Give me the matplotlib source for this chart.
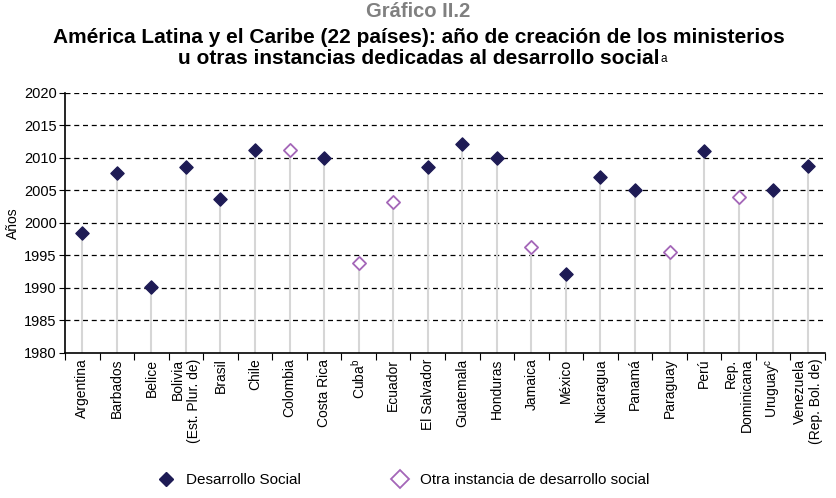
import numpy as np
import matplotlib.pyplot as plt
from matplotlib.lines import Line2D

plt.rcParams['font.family'] = ['Liberation Sans', 'DejaVu Sans']

countries = ['Argentina', 'Barbados', 'Belice', 'Bolivia\n(Est. Plur. de)', 'Brasil', 'Chile',
             'Colombia', 'Costa Rica', r'Cuba$^{\mathregular{b}}$', 'Ecuador', 'El Salvador',
             'Guatemala', 'Honduras', 'Jamaica', 'México', 'Nicaragua', 'Panamá', 'Paraguay',
             'Perú', 'Rep.\nDominicana', r'Uruguay$^{\mathregular{c}}$', 'Venezuela\n(Rep. Bol. de)']
years = [1998.5, 2007.7, 1990.1, 2008.6, 2003.7, 2011.3, 2011.3, 2010.0, 1993.8, 2003.3, 2008.6,
         2012.2, 2010.0, 1996.3, 1992.1, 2007.0, 2005.0, 1995.5, 2011.0, 2004.0, 2005.0, 2008.7]
# True = ministerio de desarrollo social, False = otra instancia
is_ministry = [True, True, True, True, True, True, False, True, False, False, True,
               True, True, False, True, True, True, False, True, False, True, True]

navy = '#1e1b55'
purple = '#a466b8'

fig = plt.figure(figsize=(8.37, 4.98), dpi=100)
ax = fig.add_axes([0.0777, 0.2912, 0.9080, 0.5221])

x = np.arange(len(countries))
years = np.array(years)
mask = np.array(is_ministry)

ax.vlines(x, 1980, years, color='#d6d6d6', linewidth=1.5, zorder=1)
ax.scatter(x[mask], years[mask], marker='D', s=45, color=navy, zorder=3)
ax.scatter(x[~mask], years[~mask], marker='D', s=45, facecolor='white',
           edgecolor=purple, linewidth=1.3, zorder=3)

ax.set_ylim(1980, 2020)
ax.set_xlim(-0.5, len(countries) - 0.5)
ax.set_yticks(np.arange(1980, 2021, 5))
for yv in np.arange(1985, 2021, 5):
    ax.axhline(yv, color='black', linestyle=(0, (4, 3)), linewidth=0.9, zorder=0)

ax.set_xticks(np.arange(-0.5, len(countries), 1))
ax.set_xticklabels([])
ax.set_xticks(x, minor=True)
ax.set_xticklabels(countries, minor=True, rotation=90, fontsize=10,
                   va='top', ha='center', multialignment='right')
ax.tick_params(axis='x', which='major', length=5, direction='out', color='black')
ax.tick_params(axis='x', which='minor', length=0, pad=4)
ax.tick_params(axis='y', length=4, labelsize=10.5, pad=2)

for s in ['top', 'right']:
    ax.spines[s].set_visible(False)
ax.spines['left'].set_linewidth(1.2)
ax.spines['bottom'].set_linewidth(1.2)

ax.set_ylabel('Años', fontsize=10, labelpad=3)

fig.text(0.5, 0.966, 'Gráfico II.2', ha='center', va='baseline', fontsize=14.5,
         fontweight='bold', color='#808080')
fig.text(0.5, 0.913, 'América Latina y el Caribe (22 países): año de creación de los ministerios',
         ha='center', va='baseline', fontsize=15, fontweight='bold')
line3 = fig.text(0.5, 0.872, 'u otras instancias dedicadas al desarrollo social',
                 ha='center', va='baseline', fontsize=15, fontweight='bold')
# superindice "a" pequeño, no en negrita, pegado al final de la linea
fig.canvas.draw()
bb = line3.get_window_extent().transformed(fig.transFigure.inverted())
fig.text(bb.x1 + 0.001, bb.y1 - 0.008, 'a', ha='left', va='top', fontsize=8.5)

handles = [Line2D([], [], marker='D', linestyle='none', markersize=7, color=navy),
           Line2D([], [], marker='D', linestyle='none', markersize=9, markerfacecolor='white',
                  markeredgecolor=purple, markeredgewidth=1.3)]
fig.legend(handles, ['Desarrollo Social', 'Otra instancia de desarrollo social'],
           loc='center', bbox_to_anchor=(0.478, 0.036), ncol=2, frameon=False,
           fontsize=11, columnspacing=5.5, handletextpad=0.3)

fig.savefig('out.png', dpi=100)
